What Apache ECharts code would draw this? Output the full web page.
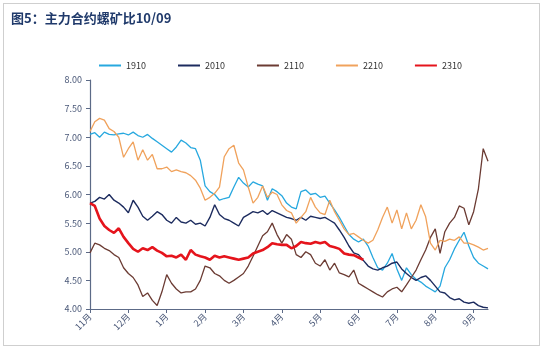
<!DOCTYPE html>
<html><head><meta charset="utf-8">
<script src="https://cdn.jsdelivr.net/npm/echarts@6/dist/echarts.min.js"></script>
<style>
html,body{margin:0;padding:0;background:#fff;}
#frame{position:absolute;left:3px;top:3px;width:535px;height:341px;border:1px solid #cfcfcf;}
#c{position:absolute;left:0;top:0;width:544px;height:347px;}
</style></head><body>
<div id="frame"></div>
<div id="c"></div>
<script>
const monthLabels = ['11月','12月','1月','2月','3月','4月','5月','6月','7月','8月','9月'];
const seriesNames = ['1910','2010','2110','2210','2310'];
const yTicks = [4, 4.5, 5, 5.5, 6, 6.5, 7, 7.5, 8];

const s1910 = [7.05,7.08,7.0,7.09,7.05,7.04,7.06,7.07,7.04,7.09,7.03,7.0,7.05,6.98,6.92,6.86,
 6.8,6.74,6.83,6.95,6.9,6.82,6.8,6.6,6.15,6.05,6.0,5.9,5.93,5.95,6.13,6.3,
 6.2,6.13,6.22,6.18,6.15,5.9,6.1,6.05,5.98,5.85,5.78,5.75,6.05,6.08,6.0,6.02,
 5.95,5.97,5.85,5.73,5.6,5.45,5.3,5.22,5.17,5.22,5.1,4.9,4.72,4.68,4.8,4.97,
 4.7,4.5,4.72,4.6,4.52,4.47,4.4,4.35,4.3,4.4,4.72,4.86,5.05,5.2,5.34,5.1,
 4.9,4.8,4.75,4.7];
const s2010 = [5.85,5.88,5.95,5.92,6.0,5.9,5.85,5.78,5.68,5.9,5.78,5.62,5.55,5.62,5.7,5.65,
 5.55,5.5,5.6,5.52,5.5,5.55,5.48,5.5,5.45,5.6,5.82,5.65,5.58,5.55,5.5,5.45,
 5.6,5.65,5.7,5.68,5.72,5.65,5.72,5.68,5.64,5.6,5.58,5.55,5.6,5.55,5.62,5.6,
 5.58,5.6,5.55,5.5,5.38,5.25,5.1,4.98,4.95,4.85,4.75,4.7,4.68,4.72,4.75,4.8,
 4.82,4.7,4.62,4.55,4.5,4.55,4.58,4.5,4.4,4.3,4.28,4.2,4.16,4.18,4.12,4.1,
 4.12,4.06,4.03,4.02];
const s2110 = [4.98,5.15,5.12,5.06,5.02,4.95,4.9,4.72,4.62,4.55,4.42,4.22,4.28,4.15,4.06,4.3,
 4.6,4.45,4.35,4.28,4.3,4.3,4.35,4.5,4.75,4.72,4.62,4.58,4.5,4.45,4.5,4.56,
 4.62,4.75,4.92,5.1,5.28,5.35,5.5,5.3,5.15,5.3,5.22,4.95,4.9,5.0,4.95,4.8,
 4.75,4.86,4.68,4.8,4.63,4.6,4.56,4.68,4.45,4.4,4.35,4.3,4.25,4.21,4.3,4.35,
 4.38,4.3,4.42,4.55,4.68,4.86,5.03,5.25,5.4,4.97,5.35,5.5,5.6,5.8,5.76,5.47,
 5.7,6.1,6.8,6.58];
const s2210 = [7.1,7.27,7.33,7.3,7.15,7.1,7.0,6.65,6.8,6.92,6.6,6.78,6.6,6.7,6.45,6.45,
 6.48,6.4,6.43,6.4,6.38,6.33,6.25,6.11,5.9,5.95,6.02,6.13,6.66,6.8,6.86,6.55,
 6.43,6.13,5.85,5.95,6.15,5.95,6.04,6.0,5.82,5.72,5.68,5.5,5.6,5.7,5.95,5.78,
 5.68,5.65,5.9,5.7,5.55,5.4,5.3,5.32,5.26,5.2,5.15,5.2,5.38,5.6,5.78,5.5,
 5.73,5.4,5.68,5.4,5.55,5.82,5.61,5.15,5.03,5.2,5.18,5.22,5.2,5.26,5.15,5.15,
 5.12,5.08,5.03,5.06];
const s2310 = [5.85,5.8,5.58,5.45,5.38,5.33,5.41,5.26,5.15,5.05,5.0,5.06,5.03,5.08,5.02,4.98,
 4.92,4.93,4.9,4.95,4.86,5.03,4.95,4.92,4.9,4.86,4.93,4.9,4.92,4.9,4.88,4.86,
 4.88,4.9,4.97,5.0,5.03,5.08,5.15,5.13,5.12,5.12,5.06,5.1,5.17,5.15,5.14,5.17,
 5.15,5.17,5.1,5.08,5.05,4.97,4.95,4.94,4.9,4.86];

const SLOTS = 8;
const categories = [];
monthLabels.forEach(function(m){ for (let k = 0; k < SLOTS; k++) categories.push(m + '-' + k); });
categories.length = s1910.length;

const colors = ['#27a8df','#1c2b5e','#6b3b33','#f0a25c','#e5141c'];
const widths = [1.3,1.4,1.3,1.3,2.6];
const datas = [s1910, s2010, s2110, s2210, s2310];

const chart = echarts.init(document.getElementById('c'), null, {renderer:'canvas'});
const isMonth = function(i){ return i % SLOTS === 0; };
chart.setOption({
  animation:false,
  title:{text:'图5：主力合约螺矿比10/09', left:6, top:7,
    textStyle:{fontFamily:'Noto Sans CJK SC', fontSize:13, fontWeight:'bold', color:'#203a6b'}},
  legend:{left:94, top:56, itemWidth:22, itemHeight:2, itemGap:32, icon:'rect',
    textStyle:{fontFamily:'Noto Sans CJK SC', fontSize:9, color:'#333'},
    data:seriesNames},
  grid:{left:90, right:56, top:80, bottom:38},
  xAxis:{type:'category', data:categories, boundaryGap:false,
    axisLine:{lineStyle:{color:'#5c6a87', width:1.2}},
    axisTick:{interval:function(i){return isMonth(i);}, length:4, lineStyle:{color:'#5c6a87'}},
    axisLabel:{interval:function(i){return isMonth(i);}, rotate:45, fontSize:9, color:'#4a5878',
      fontFamily:'Noto Sans CJK SC', margin:6,
      formatter:function(v){return v.split('-')[0];}},
    splitLine:{show:false}},
  yAxis:{type:'value', min:yTicks[0], max:yTicks[yTicks.length-1], interval:0.5,
    axisLine:{show:true, lineStyle:{color:'#5c6a87', width:1.2}},
    axisTick:{show:true, length:4, lineStyle:{color:'#5c6a87'}},
    axisLabel:{fontSize:9, color:'#4a5878', fontFamily:'Noto Sans CJK SC', margin:8,
      formatter:function(v){return v.toFixed(2);}},
    splitLine:{show:false}},
  series: seriesNames.map(function(n, i){
    return {name:n, type:'line', data:datas[i], showSymbol:false, symbol:'none',
      color:colors[i], lineStyle:{width:widths[i], color:colors[i]}, z: i===4 ? 10 : 2};
  })
});
</script>
</body></html>
